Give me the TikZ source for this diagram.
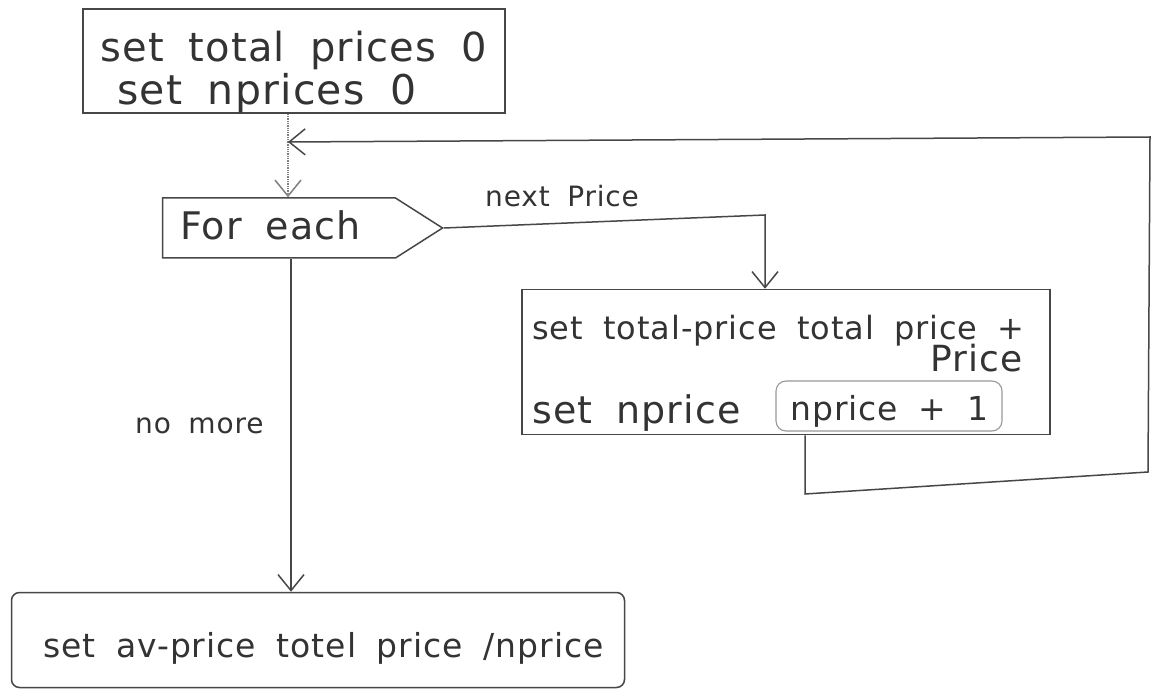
\documentclass[tikz,border=0pt]{standalone}
\usepackage{fontspec}
\setmainfont{DejaVu Sans}[LetterSpace=3, WordSpace=1.8]
\usetikzlibrary{arrows.meta,shapes.symbols}
\begin{document}
\begin{tikzpicture}[x=1pt,y=-1pt,
  pen/.style={draw=black!72, line width=1.5pt},
  faint/.style={draw=black!50, line width=1.3pt, densely dotted},
  barb/.style={-{Straight Barb[length=16pt,width=26pt,line width=1.5pt]}},
  hw/.style={text=black!80, font=\fontsize{#1}{#1}\selectfont, inner sep=0pt, anchor=base west},
  hw/.default=32,
  box/.style={pen, rectangle, inner sep=0pt}]
\useasboundingbox (0,0) rectangle (1159,700);
\fill[white] (0,0) rectangle (1159,700);
% boxes
\node[box, minimum width=422pt, minimum height=104pt] (b1) at (294,61) {};
\node[pen, signal, signal to=east, signal pointer angle=65, minimum width=280pt, minimum height=60pt, inner sep=0pt] (fe) at (279,228) {};
\node[box, minimum width=528pt, minimum height=145pt] (b2) at (786,362) {};
\node[box, rounded corners=8pt, minimum width=613pt, minimum height=95pt] (b3) at (318,640) {};
% bracket around nprice + 1
\node[draw=black!40, line width=1.1pt, rounded corners=10pt, minimum width=226pt, minimum height=50pt, inner sep=0pt] (br) at (889,406) {};
% texts
\node[hw=40] (t1) at (100,62) {set total prices 0};
\node[hw=41] (t2) at (117,105) {set nprices 0};
\node[hw=38] (t3) at (180,240) {For each};
\node[hw=28] (t4) at (485,207) {next Price};
\node[hw=32] (t5) at (532,340) {set total-price total price +};
\node[hw=36, anchor=base east] (t6) at (1023,372) {Price};
\node[hw=38] (t7) at (532,423) {set nprice};
\node[hw=33] (t8) at (790,420) {nprice + 1};
\node[hw=28] (t9) at (135,433) {no more};
\node[hw=33] (t10) at (43,657) {set av-price totel price /nprice};
% junction coordinates
\coordinate (j) at (288,142);
\coordinate (c1) at (765,215);
\coordinate (k) at (291,425);
\coordinate (l1) at (805,494);
\coordinate (l2) at (1148,472);
\coordinate (l3) at (1150,137);
% connectors
\draw[faint] (b1.south -| j) -- (j);
\draw[faint, barb] (j) -- (fe.north -| j);
\draw[pen, barb] (fe.east) -- (c1) -- (b2.north -| c1);
\draw[pen, barb] (fe.south -| k) -- (b3.north -| k);
\draw[pen, barb] (b2.south -| l1) -- (l1) -- (l2) -- (l3) -- (j);
\end{tikzpicture}
\end{document}
